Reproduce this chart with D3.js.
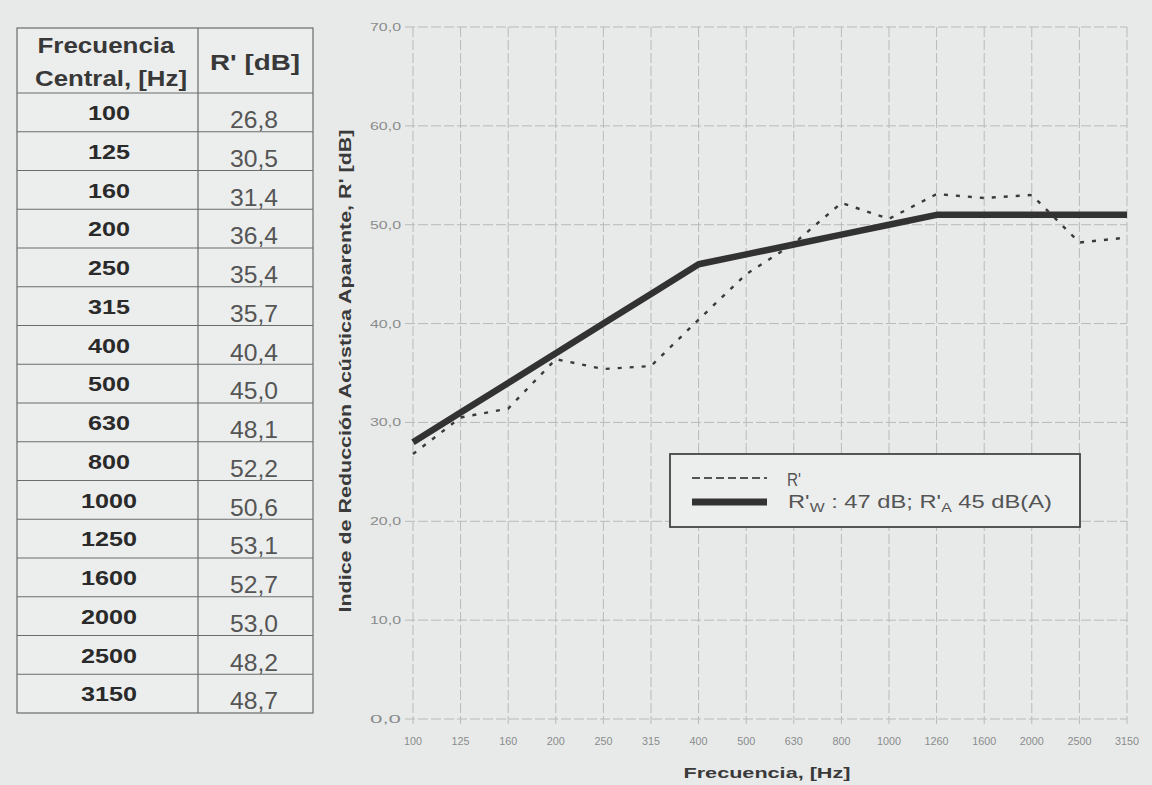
<!DOCTYPE html>
<html lang="es">
<head>
<meta charset="UTF-8">
<title>Índice de Reducción Acústica Aparente</title>
<style>
    body {
        margin: 0;
        padding: 0;
        background-color: #e8eaea;
        font-family: Arial, "Liberation Sans", sans-serif;
    }
    svg { display: block; }
    .grid line { stroke: #b8baba; stroke-width: 1; stroke-dasharray: 10,3; }
    .tick-label { fill: #8a8c8c; }
    .axis-title { fill: #3a3a3a; font-weight: bold; }
    .cell-line { stroke: #6a6c6c; stroke-width: 1.2; }
</style>
</head>
<body>
<svg id="chart" width="1152" height="785"></svg>
<script src="https://d3js.org/d3.v7.min.js"></script>
<script>
    const frequencies = ['100', '125', '160', '200', '250', '315', '400', '500', '630', '800', '1000', '1250', '1600', '2000', '2500', '3150'];
    const rMeasured = [26.8, 30.5, 31.4, 36.4, 35.4, 35.7, 40.4, 45.0, 48.1, 52.2, 50.6, 53.1, 52.7, 53.0, 48.2, 48.7];
    const rReference = [28, 31, 34, 37, 40, 43, 46, 47, 48, 49, 50, 51, 51, 51, 51, 51];
    const yTicks = [0, 10, 20, 30, 40, 50, 60, 70];
    const xTickLabels = ['100', '125', '160', '200', '250', '315', '400', '500', '630', '800', '1000', '1260', '1600', '2000', '2500', '3150'];

    const fmt = d => d.toFixed(1).replace('.', ',');
    const svg = d3.select('#chart');

    // the scanned text is wider than normal Arial, so stretch it to the measured length
    function stretch(sel, len) {
        sel.attr('textLength', len).attr('lengthAdjust', 'spacingAndGlyphs');
    }

    // ---- table ----
    const tbl = { left: 17, mid: 198, right: 313, top: 28, headH: 65, rowH: 38.75 };
    const t = svg.append('g');
    const rowY = d3.scaleLinear().domain([0, frequencies.length])
        .range([tbl.top + tbl.headH, tbl.top + tbl.headH + frequencies.length * tbl.rowH]);

    t.append('rect')
        .attr('x', tbl.left).attr('y', tbl.top)
        .attr('width', tbl.right - tbl.left)
        .attr('height', rowY(frequencies.length) - tbl.top)
        .attr('fill', '#eceeee')
        .attr('class', 'cell-line');

    t.append('line').attr('class', 'cell-line')
        .attr('x1', tbl.mid).attr('x2', tbl.mid)
        .attr('y1', tbl.top).attr('y2', rowY(frequencies.length));

    t.selectAll('.row-line')
        .data(d3.range(frequencies.length))
        .enter().append('line')
        .attr('class', 'cell-line')
        .attr('x1', tbl.left).attr('x2', tbl.right)
        .attr('y1', d => rowY(d)).attr('y2', d => rowY(d));

    // header
    const head = (txt, cx, by, len) => t.append('text')
        .attr('x', cx).attr('y', by)
        .attr('text-anchor', 'middle').attr('fill', '#383838')
        .attr('font-size', 22).attr('font-weight', 'bold')
        .text(txt).call(stretch, len);
    head('Frecuencia', 106, 53, 137);
    head('Central, [Hz]', 111, 86, 152);
    head("R' [dB]", 255, 70, 90);

    t.selectAll('.freq')
        .data(frequencies)
        .enter().append('text')
        .attr('x', 109)
        .attr('y', (d, i) => rowY(i) + 27)
        .attr('text-anchor', 'middle')
        .attr('fill', '#2a2a2a')
        .attr('font-size', 21).attr('font-weight', 'bold')
        .text(d => d)
        .each(function(d) { d3.select(this).call(stretch, d.length * 14); });

    t.selectAll('.val')
        .data(rMeasured)
        .enter().append('text')
        .attr('x', 254)
        .attr('y', (d, i) => rowY(i) + 35)
        .attr('text-anchor', 'middle')
        .attr('fill', '#555')
        .attr('font-size', 23)
        .text(d => fmt(d))
        .call(stretch, 48);

    // ---- chart ----
    const x = d3.scalePoint().domain(frequencies).range([413, 1127]);
    const y = d3.scaleLinear().domain([0, 70]).range([719, 27]);

    const grid = svg.append('g').attr('class', 'grid');
    grid.selectAll('.h')
        .data(yTicks)
        .enter().append('line')
        .attr('x1', 405).attr('x2', 1127)
        .attr('y1', d => y(d)).attr('y2', d => y(d));
    grid.selectAll('.v')
        .data(frequencies)
        .enter().append('line')
        .attr('x1', d => x(d)).attr('x2', d => x(d))
        .attr('y1', y(70)).attr('y2', y(0) + 5);

    svg.selectAll('.ylab')
        .data(yTicks)
        .enter().append('text')
        .attr('class', 'tick-label')
        .attr('font-size', 11)
        .attr('x', 401).attr('y', d => y(d) + 4)
        .attr('text-anchor', 'end')
        .text(d => fmt(d))
        .call(stretch, 31);

    svg.selectAll('.xlab')
        .data(xTickLabels)
        .enter().append('text')
        .attr('class', 'tick-label')
        .attr('font-size', 10.5)
        .attr('x', (d, i) => x(frequencies[i])).attr('y', 745)
        .attr('text-anchor', 'middle')
        .text(d => d)
        .each(function(d) { d3.select(this).call(stretch, d.length * 6); });

    svg.append('text').attr('class', 'axis-title')
        .attr('font-size', 15)
        .attr('x', 767).attr('y', 778)
        .attr('text-anchor', 'middle')
        .text('Frecuencia, [Hz]')
        .call(stretch, 167);

    svg.append('text').attr('class', 'axis-title')
        .attr('font-size', 16)
        .attr('transform', 'translate(351,371) rotate(-90)')
        .attr('text-anchor', 'middle')
        .text("Indice de Reducción Acústica Aparente, R' [dB]")
        .call(stretch, 483);

    const line = d3.line().x((d, i) => x(frequencies[i])).y(d => y(d));

    svg.append('path')
        .datum(rReference)
        .attr('d', line)
        .attr('fill', 'none')
        .attr('stroke', '#323232')
        .attr('stroke-width', 6.5)
        .attr('stroke-linejoin', 'round');

    svg.append('path')
        .datum(rMeasured)
        .attr('d', line)
        .attr('fill', 'none')
        .attr('stroke', '#3a3a3a')
        .attr('stroke-width', 2.4)
        .attr('stroke-dasharray', '4,8');

    // legend
    const lg = svg.append('g');
    lg.append('rect')
        .attr('x', 670).attr('y', 454).attr('width', 410).attr('height', 73)
        .attr('fill', '#eceeee').attr('stroke', '#444').attr('stroke-width', 1.8);
    lg.append('line').attr('x1', 692).attr('x2', 767).attr('y1', 478).attr('y2', 478)
        .attr('stroke', '#555').attr('stroke-width', 1.8).attr('stroke-dasharray', '8,4');
    lg.append('line').attr('x1', 692).attr('x2', 767).attr('y1', 502).attr('y2', 502)
        .attr('stroke', '#333').attr('stroke-width', 7);
    lg.append('text').attr('x', 787).attr('y', 486)
        .attr('fill', '#555').attr('font-size', 18).text("R'")
        .call(stretch, 14);

    // second entry has subscripts, so scale the whole group to the measured width
    const lt2 = lg.append('g').attr('transform', 'translate(788,508)');
    const lt = lt2.append('text').attr('fill', '#555').attr('font-size', 18);
    lt.append('tspan').text("R'");
    lt.append('tspan').attr('font-size', 12).attr('dy', 4).text('W');
    lt.append('tspan').attr('dy', -4).text(' : 47 dB;   R\'');
    lt.append('tspan').attr('font-size', 12).attr('dy', 4).text('A');
    lt.append('tspan').attr('dy', -4).text(' 45 dB(A)');
    const w = lt.node().getComputedTextLength();
    lt.attr('transform', `scale(${264 / w},1)`);
</script>
</body>
</html>
